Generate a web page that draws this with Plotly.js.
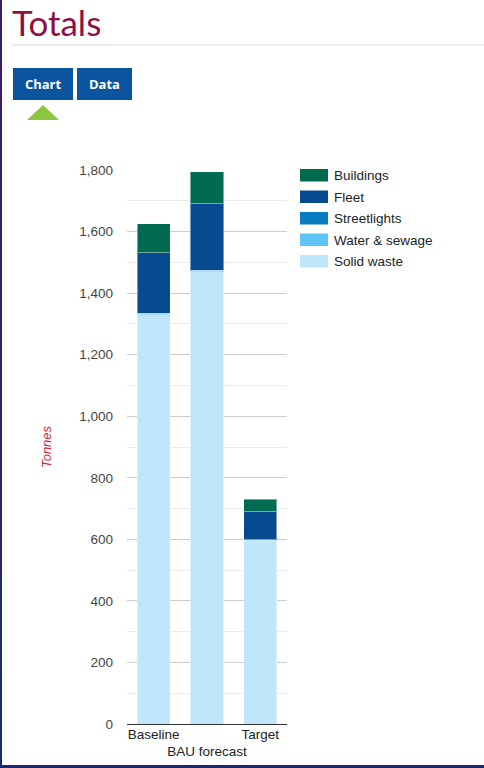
<!DOCTYPE html>
<html>
<head>
<meta charset="utf-8">
<script src="https://cdn.plot.ly/plotly-3.0.1.min.js"></script>
<style>
  html, body { margin: 0; padding: 0; background: #fff; }
  body { width: 484px; height: 768px; position: relative; overflow: hidden; }
  #chart { position: absolute; left: 0; top: 0; width: 484px; height: 768px; }
  .lborder { position: absolute; left: 0; top: 0; width: 2px; height: 768px; background: linear-gradient(#3a1c6c, #1b2a70); z-index: 5; }
  .bborder { position: absolute; left: 0; top: 765px; width: 484px; height: 3px; background: #1b2a70; z-index: 5; }
  .title { position: absolute; left: 12px; top: 0px; font-family: Lato, "Open Sans", sans-serif; font-weight: 400; font-size: 35px; color: #8c1044; line-height: 44px; z-index: 5; }
  .hr { position: absolute; left: 13px; top: 44px; width: 471px; height: 2px; background: #ececec; z-index: 5; }
  .btn { position: absolute; top: 68px; height: 32px; background: #0b559f; color: #fff; font-family: "Open Sans", sans-serif; font-weight: 700; font-size: 13px; line-height: 32px; text-align: center; z-index: 5; }
  .tri { position: absolute; left: 27px; top: 105px; width: 0; height: 0; border-left: 16px solid transparent; border-right: 16px solid transparent; border-bottom: 15px solid #8cc63f; z-index: 5; }
</style>
</head>
<body>
<div class="lborder"></div>
<div class="bborder"></div>
<div class="title">Totals</div>
<div class="hr"></div>
<div class="btn" style="left:13px;width:60px;">Chart</div>
<div class="btn" style="left:77px;width:55px;">Data</div>
<div class="tri"></div>
<div id="chart"></div>
<script>
// ---- data ----
const categories = ["Baseline", "BAU forecast", "Target"];
const tickLabels = ["Baseline", "<br>BAU forecast", "Target"];
const seriesNames = ["Solid waste", "Water & sewage", "Streetlights", "Fleet", "Buildings"];
const solidWaste   = [1330, 1470, 595];
const waterSewage  = [3, 3, 2];
const streetlights = [2, 2, 1];
const fleet        = [196, 215, 91];
const buildings    = [94, 104, 42];
const yTickVals = [0, 200, 400, 600, 800, 1000, 1200, 1400, 1600, 1800];

const seriesValues = [solidWaste, waterSewage, streetlights, fleet, buildings];
const seriesColors = ["#c0e6fb", "#5ec3f7", "#0a7dc2", "#064a90", "#006b50"];

const traces = seriesNames.map((n, i) => ({
  type: "bar",
  name: n,
  x: categories,
  y: seriesValues[i],
  marker: { color: seriesColors[i], line: { color: "rgba(255,255,255,0.45)", width: 1 } },
  hoverinfo: "skip"
}));

// plot area in pixels
const L = 127, R = 287, T = 170, B = 724, W = 484, H = 768;
const px2x = p => (p - L) / (R - L);
const px2y = p => (B - p) / (B - T);
const FONT = "Liberation Sans, Arial, sans-serif";

// custom legend (top to bottom: Buildings ... Solid waste)
const shapes = [];
const annotations = [];
const legendOrder = [4, 3, 2, 1, 0];
legendOrder.forEach((si, k) => {
  const top = 169 + k * 21.5;
  shapes.push({
    type: "rect", xref: "paper", yref: "paper",
    x0: px2x(300), x1: px2x(328), y0: px2y(top + 12.5), y1: px2y(top),
    fillcolor: seriesColors[si], line: { width: 0 }
  });
  annotations.push({
    xref: "paper", yref: "paper", x: px2x(332), y: px2y(top + 6.5),
    xanchor: "left", yanchor: "middle", showarrow: false,
    text: seriesNames[si],
    font: { family: FONT, size: 13.5, color: "#222" }
  });
});

const layout = {
  width: W, height: H,
  margin: { l: L, r: W - R, t: T, b: H - B, pad: 0 },
  paper_bgcolor: "rgba(0,0,0,0)",
  plot_bgcolor: "rgba(0,0,0,0)",
  barmode: "stack",
  bargap: 0.38,
  showlegend: false,
  font: { family: FONT, size: 13.5, color: "#444" },
  xaxis: {
    type: "category",
    tickvals: categories,
    ticktext: tickLabels,
    tickangle: 0,
    showgrid: false,
    showline: false,
    zeroline: false,
    ticks: "",
    tickfont: { size: 13.5, color: "#222" },
    automargin: false,
    fixedrange: true
  },
  yaxis: {
    range: [0, 1800],
    tickvals: yTickVals,
    tickformat: ",",
    gridcolor: "#cccccc",
    gridwidth: 1,
    minor: { dtick: 100, showgrid: true, gridcolor: "#ebebeb", gridwidth: 1 },
    zeroline: true,
    zerolinecolor: "#333",
    zerolinewidth: 1,
    showline: false,
    ticks: "",
    ticklabelstandoff: 13,
    tickfont: { size: 13.5, color: "#444" },
    title: { text: "Tonnes", standoff: 24, font: { size: 13, color: "#d0213c", family: FONT, style: "italic" } },
    automargin: false,
    fixedrange: true
  },
  shapes: shapes,
  annotations: annotations
};

Plotly.newPlot("chart", traces, layout, { displayModeBar: false, staticPlot: true });
</script>
</body>
</html>
